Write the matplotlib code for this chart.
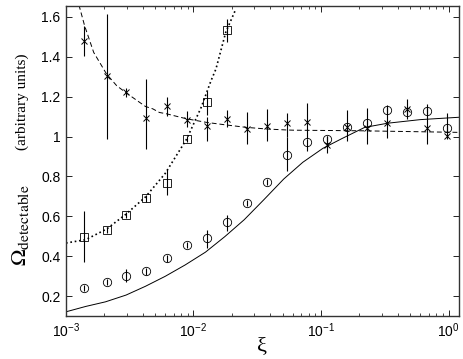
import matplotlib
matplotlib.use("Agg")
import matplotlib.pyplot as plt
import numpy as np

plt.rcParams["font.family"] = ["Liberation Sans", "DejaVu Sans"]
plt.rcParams["mathtext.fontset"] = "stix"

# measured points (xi) shared by all three series
xi = [1.39e-3, 2.085e-3, 2.955e-3, 4.264e-3, 6.163e-3, 8.845e-3, 1.269e-2,
      1.821e-2, 2.614e-2, 3.75e-2, 5.41e-2, 7.77e-2, 0.1121, 0.1608,
      0.2307, 0.3311, 0.4752, 0.6821, 0.9786]

# crosses
cross_y = [1.478, 1.304, 1.224, 1.093, 1.153, 1.083, 1.055, 1.086, 1.036, 1.055,
           1.067, 1.075, 0.958, 1.049, 1.041, 1.067, 1.136, 1.041, 1.004]
cross_lo = [1.406, 0.988, 1.200, 0.938, 1.105, 1.050, 0.980, 1.047, 0.963, 0.980,
            1.000, 0.988, 0.920, 0.980, 0.963, 0.995, 1.090, 0.963, 0.988]
cross_hi = [1.556, 1.615, 1.245, 1.289, 1.197, 1.126, 1.100, 1.133, 1.122, 1.138,
            1.120, 1.168, 1.005, 1.135, 1.145, 1.160, 1.190, 1.163, 1.118]

# circles
circ_y = [0.240, 0.269, 0.302, 0.324, 0.389, 0.456, 0.490, 0.570, 0.667, 0.773,
          0.909, 0.971, 0.988, 1.049, 1.067, 1.133, 1.122, 1.130, 1.041]
circ_lo = [0.224, 0.253, 0.270, 0.308, 0.373, 0.440, 0.440, 0.527, 0.651, 0.757,
           0.827, 0.928, 0.972, 1.033, 1.051, 1.117, 1.106, 1.114, 1.025]
circ_hi = [0.256, 0.285, 0.335, 0.340, 0.405, 0.472, 0.530, 0.606, 0.683, 0.789,
           0.998, 0.990, 1.004, 1.065, 1.083, 1.149, 1.138, 1.146, 1.057]

# squares (first 8 points only)
sq_x = xi[:8]
sq_y = [0.498, 0.531, 0.606, 0.690, 0.765, 0.988, 1.171, 1.536]
sq_lo = [0.369, 0.515, 0.590, 0.674, 0.707, 0.972, 1.110, 1.473]
sq_hi = [0.628, 0.547, 0.622, 0.706, 0.837, 1.004, 1.230, 1.590]

# model curves
dash_x = [1.264e-3, 1.4e-3, 1.65e-3, 2.08e-3, 2.5e-3, 3.0e-3, 4.2e-3, 4.8e-3,
          5.4e-3, 6.16e-3, 8.85e-3, 1.27e-2, 1.82e-2, 2.61e-2, 3.75e-2,
          5.41e-2, 6.1e-2, 0.207, 1.22]
dash_y = [1.66, 1.556, 1.422, 1.314, 1.255, 1.217, 1.151, 1.139, 1.121, 1.114,
          1.089, 1.071, 1.058, 1.046, 1.038, 1.033, 1.032, 1.029, 1.021]

dot_x = [1.0e-3, 1.43e-3, 2.08e-3, 2.96e-3, 4.2e-3, 6.0e-3, 8.85e-3, 1.15e-2,
         1.37e-2, 1.5e-2, 1.79e-2, 2.15e-2]
dot_y = [0.466, 0.483, 0.536, 0.611, 0.697, 0.815, 0.988, 1.147, 1.279, 1.339,
         1.523, 1.640]

solid_x = [1.0e-3, 1.43e-3, 2.04e-3, 2.96e-3, 4.2e-3, 6.0e-3, 8.6e-3, 1.24e-2,
           1.76e-2, 2.5e-2, 3.56e-2, 5.1e-2, 7.2e-2, 0.1035, 0.146, 0.22,
           0.333, 0.60, 1.22]
solid_y = [0.121, 0.148, 0.171, 0.205, 0.249, 0.299, 0.356, 0.420, 0.498, 0.583,
           0.683, 0.787, 0.871, 0.941, 0.990, 1.046, 1.067, 1.085, 1.097]

yticks = [0.2, 0.4, 0.6, 0.8, 1.0, 1.2, 1.4, 1.6]
ytick_labels = ["0.2", "0.4", "0.6", "0.8", "1", "1.2", "1.4", "1.6"]


def yerr(y, lo, hi):
    y = np.array(y)
    return [y - np.array(lo), np.array(hi) - y]


fig = plt.figure(figsize=(4.63, 3.59), dpi=100)
ax = fig.add_axes([0.1425, 0.1198, 0.849, 0.8635])

ax.plot(solid_x, solid_y, "-", color="k", lw=0.7)
ax.plot(dash_x, dash_y, "--", color="k", lw=0.7, dashes=(5, 3))
ax.plot(dot_x, dot_y, ":", color="k", lw=1.2)

ax.errorbar(xi, cross_y, yerr=yerr(cross_y, cross_lo, cross_hi), fmt="x",
            color="k", ms=4, mew=0.7, elinewidth=0.8, capsize=0)
ax.errorbar(xi, circ_y, yerr=yerr(circ_y, circ_lo, circ_hi), fmt="o",
            color="k", mfc="none", ms=6, mew=0.6, elinewidth=0.8, capsize=0)
ax.errorbar(sq_x, sq_y, yerr=yerr(sq_y, sq_lo, sq_hi), fmt="s",
            color="k", mfc="none", ms=5.5, mew=0.6, elinewidth=0.8, capsize=0)

ax.set_xscale("log")
ax.set_xlim(1e-3, 1.21)
ax.set_ylim(0.1, 1.655)
ax.set_yticks(yticks)
ax.set_yticklabels(ytick_labels)
ax.tick_params(which="both", direction="in", top=True, right=True,
               labelsize=10, pad=4)
ax.tick_params(which="major", length=4, width=0.6)
ax.tick_params(which="minor", length=2, width=0.5)
for s in ax.spines.values():
    s.set_linewidth(1.0)
    s.set_color("#333333")

fig.text(0.565, 0.035, "ξ", family="Liberation Serif", fontsize=16,
         ha="center", va="center")
fig.text(0.045, 0.373, r"$\Omega_{\mathrm{detectable}}$", rotation=90,
         fontsize=16, ha="center", va="center")
fig.text(0.047, 0.717, "(arbitrary units)", rotation=90, family="Liberation Serif",
         fontsize=11, ha="center", va="center")

fig.savefig("out.png", dpi=100)
